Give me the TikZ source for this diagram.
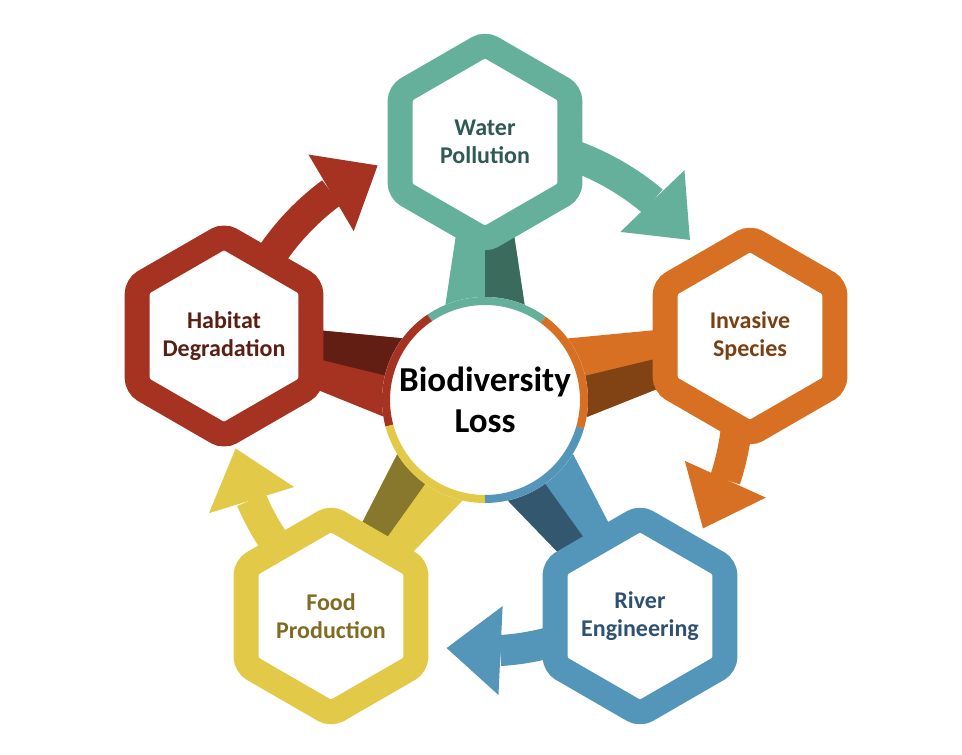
\documentclass[tikz,border=0pt]{standalone}
\usepackage{fontspec}
\setmainfont{Carlito}
\usetikzlibrary{shapes.geometric,arrows.meta,bending,calc,backgrounds}

\definecolor{waterL}{HTML}{64B09B}
\definecolor{waterD}{HTML}{3A6B5D}
\definecolor{waterT}{HTML}{2F5A53}
\definecolor{invasiveL}{HTML}{D87024}
\definecolor{invasiveD}{HTML}{814313}
\definecolor{invasiveT}{HTML}{7A3F12}
\definecolor{riverL}{HTML}{5495BA}
\definecolor{riverD}{HTML}{345770}
\definecolor{riverT}{HTML}{2F5171}
\definecolor{foodL}{HTML}{E2C948}
\definecolor{foodD}{HTML}{88782D}
\definecolor{foodT}{HTML}{7F6C22}
\definecolor{habitatL}{HTML}{A63322}
\definecolor{habitatD}{HTML}{621E12}
\definecolor{habitatT}{HTML}{5A1E12}

\begin{document}
\begin{tikzpicture}[x=1pt,y=1pt,
  hexa/.style={regular polygon,regular polygon sides=6,shape border rotate=30,
    minimum size=196pt,inner sep=0pt,outer sep=0pt,line width=25pt,rounded corners=8pt,
    fill=white,draw=#1L,text=#1T,align=center,font=\bfseries\fontsize{24}{28}\selectfont},
  cycle arrow/.style={line width=31pt,#1L,-{Triangle[length=54pt,width=89pt,line width=0pt]}}]
  \useasboundingbox (0,0) rectangle (962,-755);
  \node (hub) at (485,-400) [circle,fill=white,minimum size=206pt,inner sep=0pt,outer sep=0pt,
    align=center,font=\bfseries\fontsize{35}{41}\selectfont] {Biodiversity\\Loss};
  \foreach \n/\a/\b in {water/54/124,habitat/124/195,food/195/270,river/270/344,invasive/344/414}
    \draw[line width=8pt,\n L] ([shift={(\a:99)}]hub.center) arc[start angle=\a,end angle=\b,radius=99];

  \node (water)    at (485,-142) [hexa=water]    {Water\\Pollution};
  \node (invasive) at (750,-336) [hexa=invasive] {Invasive\\Species};
  \node (river)    at (640,-616) [hexa=river]    {River\\Engineering};
  \node (food)     at (331,-616) [hexa=food]     {Food\\Production};
  \node (habitat)  at (224,-336) [hexa=habitat]  {Habitat\\Degradation};

  \begin{scope}[on background layer]
    \foreach \n in {water,invasive,river,food,habitat}{
      \fill[\n L] ($(hub.center)!54pt!90:(\n.center)$) -- ($(\n.center)!15pt!-90:(hub.center)$)
        -- ($(\n.center)!15pt!90:(hub.center)$) -- ($(hub.center)!54pt!-90:(\n.center)$) -- cycle;
      \fill[\n D] (hub.center) -- ($(hub.center)!54pt!-90:(\n.center)$)
        -- ($(\n.center)!15pt!90:(hub.center)$) -- (\n.center) -- cycle;
    }
    \foreach \n/\a/\b/\r in {water/80/38/260,invasive/5/-30.5/253,river/-65/-98.8/251,
                             food/225/191/254,habitat/155/114.6/258}
      \draw[cycle arrow=\n] ([shift={(\a:\r)}]hub.center) arc[start angle=\a,end angle=\b,radius=\r];
  \end{scope}
\end{tikzpicture}
\end{document}
